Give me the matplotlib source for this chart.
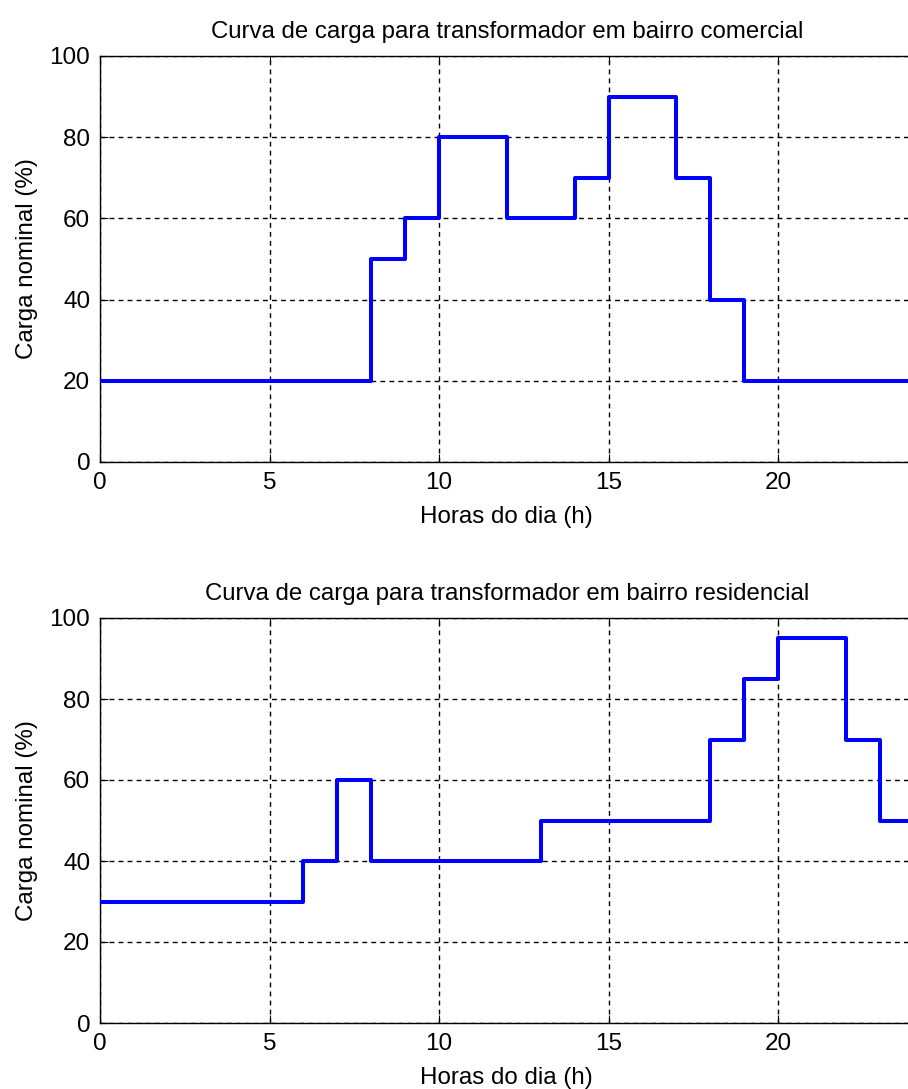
import matplotlib
matplotlib.use('Agg')
import matplotlib.pyplot as plt

# Load profiles (% of nominal), hourly breakpoints
hours_com = [0, 8, 9, 10, 12, 14, 15, 17, 18, 19, 24]
load_com = [20, 50, 60, 80, 60, 70, 90, 70, 40, 20, 20]

hours_res = [0, 6, 7, 8, 13, 18, 19, 20, 22, 23, 24]
load_res = [30, 40, 60, 40, 50, 70, 85, 95, 70, 50, 50]

titles = ['Curva de carga para transformador em bairro comercial',
          'Curva de carga para transformador em bairro residencial']
xticks = [0, 5, 10, 15, 20]
yticks = [0, 20, 40, 60, 80, 100]

plt.rcParams['font.family'] = ['Liberation Sans', 'DejaVu Sans']

fig = plt.figure(figsize=(9.08, 10.89), dpi=100)
W, H = 908, 1089
positions = [
    [100 / W, (H - 462) / H, (913.6 - 100) / W, (462 - 56) / H],
    [100 / W, (H - 1023) / H, (913.6 - 100) / W, (1023 - 618) / H],
]

data = [(hours_com, load_com), (hours_res, load_res)]

for pos, (x, y), title in zip(positions, data, titles):
    ax = fig.add_axes(pos)
    ax.step(x, y, where='post', color='#0000ff', lw=2.9, zorder=3)
    ax.set_xlim(0, 24)
    ax.set_ylim(0, 100)
    ax.set_xticks(xticks)
    ax.set_yticks(yticks)
    ax.grid(True, color='black', linestyle=(0, (3.5, 3)), lw=1.0)
    ax.tick_params(direction='in', length=6, width=0.8, labelsize=17.5,
                   top=True, right=True, pad=7)
    for s in ax.spines.values():
        s.set_linewidth(1.0)
    ax.set_title(title, fontsize=17.3, pad=13)
    ax.set_xlabel('Horas do dia (h)', fontsize=17.4, labelpad=9)
    ax.set_ylabel('Carga nominal (%)', fontsize=17.4, labelpad=8)

fig.savefig('out.png', dpi=100)
